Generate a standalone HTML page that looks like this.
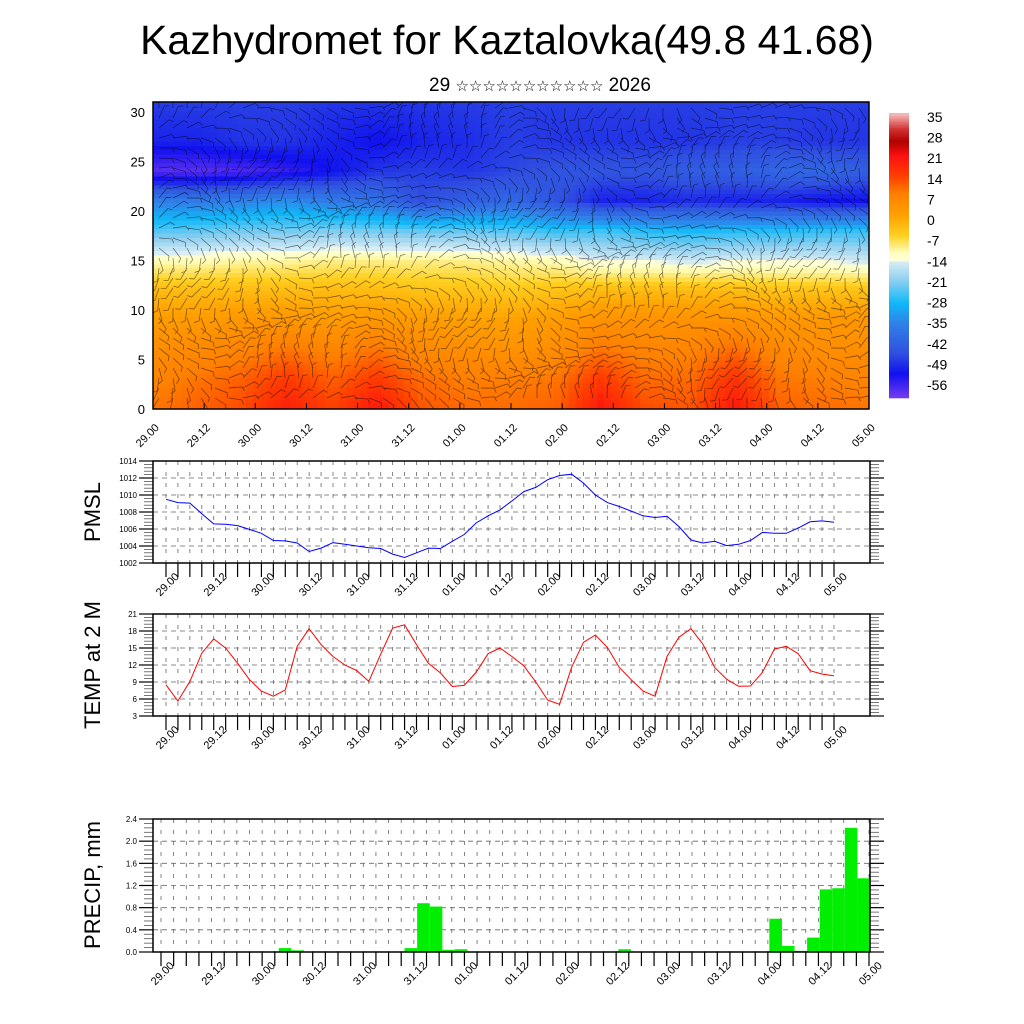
<!DOCTYPE html>
<html><head><meta charset="utf-8"><style>
html,body{margin:0;padding:0;background:#fff;}
svg{display:block;font-family:"Liberation Sans","DejaVu Sans",sans-serif;}
</style></head><body>
<svg id="c" width="1024" height="1024" viewBox="0 0 1024 1024" xmlns="http://www.w3.org/2000/svg">
<defs><clipPath id="topclip"><rect x="153" y="102" width="716" height="307"/></clipPath></defs>
<text x="507" y="54" font-size="41" text-anchor="middle">Kazhydromet for Kaztalovka(49.8 41.68)</text>
<text x="540" y="91" font-size="19" text-anchor="middle" font-family="Liberation Sans, DejaVu Sans, Noto Sans CJK JP, sans-serif">29 <tspan font-size="15">☆☆☆☆☆☆☆☆☆☆☆</tspan> 2026</text>
<g id="topG"></g>
<g id="cbar"></g>
<g id="pmsl"></g>
<g id="temp"></g>
<g id="prec"></g>
</svg>
<script>
var dayLabels = ["29.00","29.12","30.00","30.12","31.00","31.12","01.00","01.12","02.00","02.12","03.00","03.12","04.00","04.12","05.00"];
var heightLevels = [0,3,6,9,12,15,18,21,24,27,31];
var tempGrid = [
 [10,12,14,20,15,21,13,11,11,12,21,14,13,21,12,11,10],
 [8,10,12,16,12,16,11,9,9,10,16,11,11,17,10,9,8],
 [6,7,8,10,8,10,7,6,5,6,10,8,8,11,7,6,6],
 [3,3,4,4,3,4,3,2,2,3,5,5,5,5,4,4,4],
 [-2,-2,-2,-2,-2,-2,-3,-3,-4,-3,-2,-2,-2,-2,-3,-3,-3],
 [-11,-11,-10,-10,-9,-9,-9,-9,-10,-11,-14,-14,-15,-14,-14,-14,-15],
 [-24,-23,-22,-22,-21,-22,-23,-23,-24,-26,-25,-27,-28,-27,-27,-26,-26],
 [-35,-36,-35,-33,-36,-38,-45,-42,-40,-44,-50,-50,-49,-50,-50,-52,-52],
 [-58,-58,-57,-55,-52,-48,-47,-48,-46,-44,-44,-44,-42,-42,-40,-40,-42],
 [-50,-50,-48,-48,-50,-52,-50,-49,-47,-48,-48,-48,-48,-47,-47,-48,-48],
 [-47,-47,-47,-47,-48,-48,-48,-47,-47,-47,-47,-47,-47,-47,-47,-47,-47]
];
var cbarLabels = [35,28,21,14,7,0,-7,-14,-21,-28,-35,-42,-49,-56];
var pmslValues = [1009.5,1009.1,1009.05,1007.8,1006.6,1006.55,1006.4,1005.95,1005.5,1004.65,1004.6,1004.35,1003.35,1003.75,1004.4,1004.2,1004.0,1003.8,1003.7,1003.05,1002.65,1003.2,1003.75,1003.7,1004.55,1005.35,1006.7,1007.55,1008.25,1009.3,1010.4,1010.9,1011.8,1012.3,1012.45,1011.4,1010.0,1009.1,1008.65,1008.1,1007.55,1007.35,1007.5,1006.3,1004.7,1004.35,1004.55,1004.05,1004.2,1004.65,1005.6,1005.5,1005.5,1006.1,1006.85,1006.95,1006.8];
var pmslTicks = [1002,1004,1006,1008,1010,1012,1014];
var tempValues = [8.5,5.65,9.1,14.1,16.6,15.0,12.3,9.4,7.4,6.5,7.6,15.3,18.4,15.6,13.5,12.0,11.0,9.1,13.9,18.5,19.1,15.6,12.3,10.6,8.2,8.4,10.7,14.0,15.0,13.5,11.85,9.0,5.8,5.05,11.6,16.0,17.3,15.1,11.55,9.4,7.4,6.5,13.5,16.9,18.4,15.7,11.55,9.5,8.25,8.3,10.7,14.8,15.3,14.0,11.0,10.4,10.1];
var tempTicks = [3,6,9,12,15,18,21];
var precipValues = [0,0,0,0.01,0.01,0,0,0,0,0,0.07,0.03,0,0,0,0,0,0,0,0,0.07,0.88,0.82,0.04,0.05,0,0,0,0,0,0,0,0,0,0,0,0.01,0.05,0,0,0,0,0,0,0,0,0,0,0.01,0.60,0.11,0.02,0.26,1.13,1.15,2.24,1.33];
var precipTicks = ["0.0","0.4","0.8","1.2","1.6","2.0","2.4"];

var NS="http://www.w3.org/2000/svg";
function mk(p,tag,a){var e=document.createElementNS(NS,tag);for(var k in a)e.setAttribute(k,a[k]);p.appendChild(e);return e;}
var stops=[[36,[245,181,181]],[31,[208,48,48]],[27,[176,0,0]],[22,[255,16,16]],[15,[255,64,0]],[9,[255,128,0]],[2,[255,160,0]],[-5,[255,208,32]],[-11,[255,255,192]],[-13.5,[255,255,216]],[-14,[216,236,244]],[-20,[144,208,240]],[-28,[16,184,248]],[-35,[48,128,232]],[-45,[48,80,224]],[-52,[16,16,240]],[-61,[128,64,240]]];
function rgb(c){return "rgb("+c[0]+","+c[1]+","+c[2]+")";}
function cmap(v){if(v>=stops[0][0])return rgb(stops[0][1]);for(var i=0;i<stops.length-1;i++){var a=stops[i],b=stops[i+1];if(v<=a[0]&&v>=b[0]){var t=(a[0]-v)/(a[0]-b[0]);return rgb([0,1,2].map(function(j){return Math.round(a[1][j]+(b[1][j]-a[1][j])*t);}));}}return rgb(stops[stops.length-1][1]);}

var NL=dayLabels.length;
// ---------- top panel ----------
var topG=document.getElementById('topG');
var TX0=153,TX1=869,TY0=102,TY1=409;
function hY(h){return TY1-h*(TY1-112)/30;}
var nc=tempGrid[0].length;
function sampleT(fx,h){
  var ci=fx*(nc-1),c0=Math.min(Math.floor(ci),nc-2),ct=ci-c0;
  var r0=0;for(var r=0;r<heightLevels.length-1;r++){if(h>=heightLevels[r])r0=r;}
  var rt=(h-heightLevels[r0])/(heightLevels[r0+1]-heightLevels[r0]);rt=Math.max(0,Math.min(1,rt));
  var a=tempGrid[r0][c0]*(1-ct)+tempGrid[r0][c0+1]*ct;
  var b=tempGrid[r0+1][c0]*(1-ct)+tempGrid[r0+1][c0+1]*ct;
  return a*(1-rt)+b*rt;
}
var heat=mk(topG,'g',{'shape-rendering':'crispEdges'});


var NX=100,NY=70,cw=(TX1-TX0)/NX,ch=(TY1-TY0)/NY;
for(var i=0;i<NX;i++)for(var j=0;j<NY;j++){
  var yy=TY0+j*ch,h=(TY1-(yy+ch/2))*30/(TY1-112);
  mk(heat,'rect',{x:(TX0+i*cw).toFixed(2),y:yy.toFixed(2),width:(cw+0.6).toFixed(2),height:(ch+0.6).toFixed(2),fill:cmap(sampleT((i+0.5)/NX,h))});
}
var barbs=mk(topG,'g',{stroke:'#000','stroke-width':'0.7',opacity:'0.55',fill:'none','clip-path':'url(#topclip)'});


var d="";
for(var bx=TX0+6;bx<TX1-4;bx+=14)for(var by=TY0+6;by<TY1-2;by+=10){
  var ang=Math.sin(bx*0.021+by*0.013)*1.3+Math.cos(by*0.05-bx*0.008)*0.9+0.2;
  var L=13,ex=bx+Math.cos(ang)*L,ey=by+Math.sin(ang)*L;
  var fa=ang+1.1;
  d+="M"+bx.toFixed(1)+","+by.toFixed(1)+"L"+ex.toFixed(1)+","+ey.toFixed(1)+"l"+(Math.cos(fa)*5).toFixed(1)+","+(Math.sin(fa)*5).toFixed(1);
}
mk(barbs,'path',{d:d});
mk(topG,'rect',{x:TX0,y:TY0,width:TX1-TX0,height:TY1-TY0,fill:'none',stroke:'#000','stroke-width':1.5});
for(var v=0;v<=30;v+=5){
  var t=mk(topG,'text',{x:145,y:hY(v)+5,'font-size':13,'text-anchor':'end'});t.textContent=v;
  
  
}
for(var k=0;k<NL;k++){
  var x=TX0+k*(TX1-TX0)/(NL-1);
  mk(topG,'line',{x1:x,y1:TY1,x2:x,y2:TY1-6,stroke:'#000'});
  var tl=mk(topG,'text',{x:0,y:0,'font-size':11,'text-anchor':'middle',transform:'translate('+(x-3)+',438) rotate(-45)'});tl.textContent=dayLabels[k];
  
  
}
// ---------- colorbar ----------
var cb=document.getElementById('cbar');
var CY0=113,CY1=398;
function cbY(v){return 117+(35-v)*(385-117)/91;}
for(var y=CY0;y<CY1;y+=1.5){
  var val=35-(y-117)*91/(385-117);
  mk(cb,'rect',{x:889,y:y,width:20,height:1.8,fill:cmap(val)});
}
cbarLabels.forEach(function(v){
  var t=mk(cb,'text',{x:927,y:cbY(v)+5,'font-size':14});t.textContent=v;
  
  
});
// ---------- line panels ----------
var FX0=153,FX1=870;
function panel(gid,y0,y1,vmin,vmax,ticks,tickText,title,titleY,dx0,dx1,nT){
  var g=document.getElementById(gid);
  function Y(v){return y1-(v-vmin)*(y1-y0)/(vmax-vmin);}
  for(var i=0;i<nT;i++){
    var x=dx0+i*(dx1-dx0)/(nT-1);
    mk(g,'line',{x1:x,y1:y0,x2:x,y2:y1,stroke:'#666','stroke-width':0.8,'stroke-dasharray':'4,7'});
    mk(g,'line',{x1:x,y1:y1,x2:x,y2:y1+14,stroke:'#000','stroke-width':1.2});
  }
  ticks.forEach(function(v,i){
    var y=Y(v);
    if(i>0&&i<ticks.length-1)mk(g,'line',{x1:FX0,y1:y,x2:FX1,y2:y,stroke:'#666','stroke-width':0.8,'stroke-dasharray':'5,4'});
    mk(g,'line',{x1:FX0-14,y1:y,x2:FX0,y2:y,stroke:'#000','stroke-width':1.2});
    mk(g,'line',{x1:FX1,y1:y,x2:FX1+14,y2:y,stroke:'#000','stroke-width':1.2});
    var t=mk(g,'text',{x:FX0-16,y:y+3,'font-size':8,'text-anchor':'end'});t.textContent=tickText[i];
    
    
    if(i<ticks.length-1){for(var m=1;m<5;m++){var ym=Y(v+(ticks[1]-ticks[0])*m/5);
      mk(g,'line',{x1:FX0-9,y1:ym,x2:FX0,y2:ym,stroke:'#555','stroke-width':0.8});
      mk(g,'line',{x1:FX1,y1:ym,x2:FX1+9,y2:ym,stroke:'#555','stroke-width':0.8});}}
  });
  for(var k=0;k<NL;k++){
    var x=dx0+k*(dx1-dx0)/(NL-1);
    var tl=mk(g,'text',{x:0,y:0,'font-size':11,'text-anchor':'middle',transform:'translate('+(x+4)+','+(y1+24)+') rotate(-45)'});tl.textContent=dayLabels[k];
    
    
  }
  var tt=mk(g,'text',{x:0,y:0,'font-size':22,'text-anchor':'middle',transform:'translate(100,'+titleY+') rotate(-90)'});tt.textContent=title;
  
  
  return {g:g,Y:Y};
}
var P=panel('pmsl',461,563,1002,1014,pmslTicks,pmslTicks.map(String),'PMSL',512,166,834,57);
var pts=pmslValues.map(function(v,i){return (166+i*668/(pmslValues.length-1)).toFixed(1)+','+P.Y(v).toFixed(1);}).join(' ');
var pl=mk(P.g,'polyline',{points:pts,fill:'none',stroke:'#0000ff','stroke-width':1});


mk(P.g,'rect',{x:FX0,y:461,width:FX1-FX0,height:102,fill:'none',stroke:'#000','stroke-width':1.5});

var T=panel('temp',614,716,3,21,tempTicks,tempTicks.map(String),'TEMP at 2 M',665,166,834,57);
var pts2=tempValues.map(function(v,i){return (166+i*668/(tempValues.length-1)).toFixed(1)+','+T.Y(v).toFixed(1);}).join(' ');
var tl2=mk(T.g,'polyline',{points:pts2,fill:'none',stroke:'#ff0000','stroke-width':1});


mk(T.g,'rect',{x:FX0,y:614,width:FX1-FX0,height:102,fill:'none',stroke:'#000','stroke-width':1.5});

var R=panel('prec',819,952,0,2.4,precipTicks.map(Number),precipTicks,'PRECIP, mm',885,161,869,57);
var bw=(FX1-FX0)/precipValues.length;
precipValues.forEach(function(v,k){
  if(v<=0)return;
  var b=mk(R.g,'rect',{x:(FX0+k*bw).toFixed(2),y:R.Y(v).toFixed(2),width:bw.toFixed(2),height:(952-R.Y(v)).toFixed(2),fill:'#00ee00'});
  
  
});
mk(R.g,'rect',{x:FX0,y:819,width:FX1-FX0,height:133,fill:'none',stroke:'#000','stroke-width':1.5});
</script>
</body></html>
